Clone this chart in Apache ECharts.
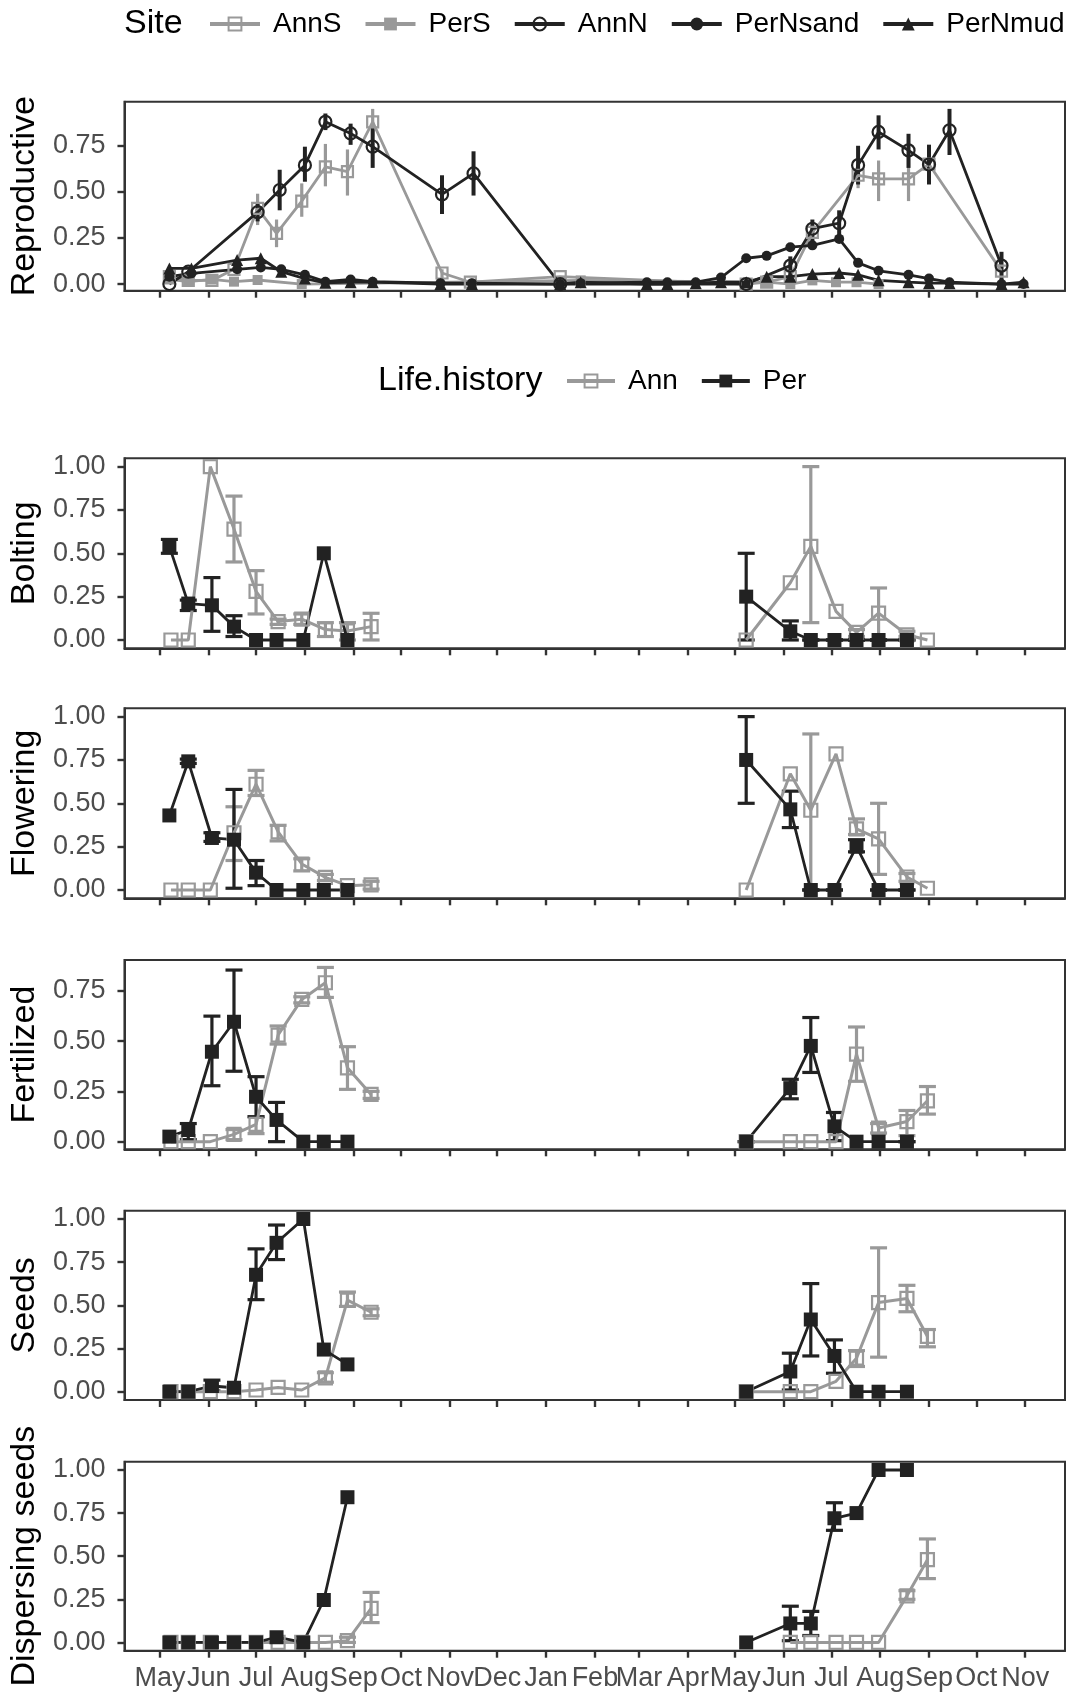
<!DOCTYPE html>
<html>
<head>
<meta charset="utf-8">
<script src="https://cdn.jsdelivr.net/npm/echarts@6/dist/echarts.min.js"></script>
<style>
  html, body { margin: 0; padding: 0; background: #fff; }
  #chart { width: 1069px; height: 1694px; }
</style>
</head>
<body>
<div id="chart"></div>
<script>
// month ticks on the shared date axis
const monthTicks = ['2018-05-01', '2018-06-01', '2018-07-01', '2018-08-01', '2018-09-01', '2018-10-01',
  '2018-11-01', '2018-12-01', '2019-01-01', '2019-02-01', '2019-03-01', '2019-04-01', '2019-05-01',
  '2019-06-01', '2019-07-01', '2019-08-01', '2019-09-01', '2019-10-01', '2019-11-01']
const monthLabels = ['May', 'Jun', 'Jul', 'Aug', 'Sep', 'Oct', 'Nov', 'Dec', 'Jan', 'Feb', 'Mar', 'Apr',
  'May', 'Jun', 'Jul', 'Aug', 'Sep', 'Oct', 'Nov']
const xStart = '2018-04-08T12:00:00Z'
const xEnd = '2019-11-26T07:00:00Z'

// ---- top panel: proportion reproductive by site ----
const siteNames = ['AnnS', 'PerS', 'AnnN', 'PerNsand', 'PerNmud']

const annSDates = ['2018-05-07', '2018-05-19', '2018-06-03', '2018-06-17', '2018-07-02', '2018-07-14', '2018-07-30',
  '2018-08-14', '2018-08-28', '2018-09-13', '2018-10-27', '2018-11-14', '2019-01-10', '2019-05-08', '2019-05-21',
  '2019-06-05', '2019-06-19', '2019-07-18', '2019-07-31', '2019-08-19', '2019-09-01', '2019-10-17']
const annS = [0.04, 0.02, 0.02, 0.08, 0.41, 0.275, 0.45, 0.635, 0.61, 0.88, 0.06, 0.01, 0.04, 0.0, 0.01,
  0.04, 0.28, 0.59, 0.57, 0.57, 0.65, 0.07]
const annSLo = [null, null, null, null, 0.32, 0.20, 0.365, 0.53, 0.48, 0.80, 0.03, null, null, null, null,
  null, null, 0.52, 0.45, 0.45, null, 0.02]
const annSHi = [null, null, null, null, 0.49, 0.35, 0.546, 0.76, 0.73, 0.95, 0.08, null, null, null, null,
  null, null, 0.66, 0.67, 0.70, null, 0.10]

const perSDates = ['2018-05-07', '2018-05-19', '2018-06-03', '2018-06-17', '2018-07-02', '2018-07-30', '2019-01-23',
  '2019-05-21', '2019-06-05', '2019-06-19', '2019-07-04', '2019-07-17', '2019-07-31']
const perS = [0.025, 0.013, 0.025, 0.013, 0.022, 0.0, 0.02, 0.01, 0.0, 0.02, 0.01, 0.01, 0.0]

const annNDates = ['2018-05-07', '2018-05-19', '2018-07-02', '2018-07-16', '2018-08-01', '2018-08-14', '2018-08-30',
  '2018-09-13', '2018-10-27', '2018-11-16', '2019-01-10', '2019-05-08', '2019-06-05', '2019-06-19', '2019-07-06',
  '2019-07-18', '2019-07-31', '2019-08-19', '2019-09-01', '2019-09-14', '2019-10-17']
const annN = [0.0, 0.067, 0.39, 0.51, 0.645, 0.88, 0.817, 0.745, 0.486, 0.60, 0.0, 0.0, 0.10, 0.30, 0.33,
  0.645, 0.825, 0.725, 0.648, 0.834, 0.10]
const annNLo = [null, null, 0.34, 0.40, 0.555, 0.835, 0.755, 0.63, 0.38, 0.48, null, null, 0.05, 0.19, 0.26,
  0.54, 0.73, 0.63, 0.54, 0.70, 0.0]
const annNHi = [null, null, 0.44, 0.62, 0.745, 0.925, 0.87, 0.85, 0.59, 0.72, null, null, 0.15, 0.35, 0.40,
  0.75, 0.915, 0.815, 0.756, 0.95, 0.175]

const perNDates = ['2018-05-07', '2018-05-21', '2018-06-19', '2018-07-04', '2018-07-17', '2018-08-01', '2018-08-14',
  '2018-08-30', '2018-09-13', '2018-10-26', '2018-11-15', '2019-01-10', '2019-01-23', '2019-03-06', '2019-03-19',
  '2019-04-06', '2019-04-22', '2019-05-08', '2019-05-21', '2019-06-05', '2019-06-19', '2019-07-06', '2019-07-18',
  '2019-07-31', '2019-08-19', '2019-09-01', '2019-09-14', '2019-10-17', '2019-10-31']
const perNsand = [0.04, 0.058, 0.08, 0.09, 0.08, 0.05, 0.013, 0.025, 0.013, 0.005, 0.005, 0.0, 0.005, 0.01, 0.01,
  0.01, 0.035, 0.14, 0.153, 0.20, 0.21, 0.245, 0.115, 0.072, 0.05, 0.03, 0.01, 0.0, 0.0]
const perNmud = [0.085, 0.085, 0.13, 0.14, 0.067, 0.03, 0.007, 0.01, 0.01, 0.0, 0.0, 0.0, 0.01, 0.0, 0.0,
  0.005, 0.01, 0.01, 0.04, 0.04, 0.054, 0.06, 0.05, 0.02, 0.01, 0.005, 0.005, 0.0, 0.01]

// ---- lower panels: stages by life history (two seasons each) ----
const annDates = ['2018-05-08', '2018-05-19', '2018-06-02', '2018-06-17', '2018-07-01', '2018-07-15', '2018-07-30',
  '2018-08-14', '2018-08-28', '2018-09-12',
  '2019-05-08', '2019-06-05', '2019-06-18', '2019-07-04', '2019-07-17', '2019-07-31', '2019-08-18', '2019-08-31']
const annSeason1 = 10
const perDates = ['2018-05-07', '2018-05-19', '2018-06-03', '2018-06-17', '2018-07-01', '2018-07-14', '2018-07-31',
  '2018-08-13', '2018-08-28',
  '2019-05-08', '2019-06-05', '2019-06-18', '2019-07-03', '2019-07-17', '2019-07-31', '2019-08-18']
const perSeason1 = 9

const annBolt = [0, 0, 1.00, 0.64, 0.28, 0.106, 0.12, 0.06, 0.052, 0.077, 0, 0.33, 0.54, 0.165, 0.044, 0.155, 0.03, 0]
const annBoltLo = [null, null, null, 0.45, 0.15, 0.09, 0.09, 0.02, 0.0, 0.0, null, null, 0.10, null, 0.02, 0.0, 0.02, null]
const annBoltHi = [null, null, null, 0.83, 0.40, 0.12, 0.15, 0.10, 0.10, 0.154, null, null, 1.00, null, 0.06, 0.30, 0.05, null]
const perBolt = [0.54, 0.21, 0.20, 0.077, 0, 0, 0, 0.50, 0, 0.25, 0.05, 0, 0, 0, 0, 0]
const perBoltLo = [0.50, 0.17, 0.05, 0.02, null, null, null, null, null, 0.0, 0.0, 0, 0, 0, 0, 0]
const perBoltHi = [0.58, 0.23, 0.36, 0.14, null, null, null, null, null, 0.50, 0.11, 0, 0, 0, 0, 0]

const annFlow = [0, 0, 0, 0.33, 0.61, 0.335, 0.15, 0.073, 0.025, 0.03, 0, 0.67, 0.46, 0.785, 0.353, 0.295, 0.075, 0.01]
const annFlowLo = [null, null, null, 0.17, 0.545, 0.283, 0.11, 0.055, null, 0.005, null, null, 0.0, null, 0.32, 0.09, 0.05, null]
const annFlowHi = [null, null, null, 0.48, 0.69, 0.373, 0.18, 0.09, null, 0.05, null, null, 0.90, null, 0.41, 0.50, 0.095, null]
const perFlow = [0.43, 0.742, 0.30, 0.29, 0.10, 0, 0, 0, 0, 0.75, 0.465, 0, 0, 0.25, 0, 0]
const perFlowLo = [null, 0.73, 0.28, 0.01, 0.025, null, null, null, null, 0.50, 0.36, 0, 0, 0.22, 0, 0]
const perFlowHi = [null, 0.755, 0.33, 0.58, 0.17, null, null, null, null, 1.00, 0.57, 0, 0, 0.29, 0, 0]

const annFert = [0, 0, 0, 0.036, 0.086, 0.53, 0.707, 0.79, 0.367, 0.235, 0, 0, 0, 0, 0.435, 0.068, 0.10, 0.203]
const annFertLo = [null, null, null, 0.01, 0.04, 0.485, 0.69, 0.717, 0.26, 0.215, null, null, null, null, 0.30, 0.043, 0.03, 0.137]
const annFertHi = [null, null, null, 0.06, 0.124, 0.575, 0.72, 0.866, 0.472, 0.25, null, null, null, null, 0.57, 0.09, 0.155, 0.274]
const perFert = [0.025, 0.058, 0.447, 0.596, 0.223, 0.108, 0, 0, 0, 0, 0.266, 0.476, 0.076, 0, 0, 0]
const perFertLo = [null, 0.01, 0.278, 0.35, 0.124, 0.0, null, null, null, 0, 0.213, 0.344, 0.005, null, null, 0]
const perFertHi = [null, 0.09, 0.624, 0.853, 0.323, 0.195, null, null, null, 0, 0.31, 0.617, 0.145, null, null, 0]

const annSeed = [0, 0, 0, 0, 0.01, 0.025, 0.01, 0.08, 0.53, 0.46, 0, 0, 0, 0.06, 0.194, 0.516, 0.54, 0.32]
const annSeedLo = [null, null, null, null, null, null, null, 0.055, 0.494, 0.44, null, null, null, null, 0.146, 0.20, 0.463, 0.26]
const annSeedHi = [null, null, null, null, null, null, null, 0.11, 0.577, 0.48, null, null, null, null, 0.238, 0.833, 0.616, 0.36]
const perSeed = [0, 0, 0.033, 0.023, 0.677, 0.862, 1.00, 0.244, 0.158, 0, 0.117, 0.418, 0.207, 0, 0, 0]
const perSeedLo = [null, null, 0.004, null, 0.533, 0.765, null, null, null, null, 0.01, 0.207, 0.107, null, null, null]
const perSeedHi = [null, null, 0.067, null, 0.827, 0.965, null, null, null, null, 0.223, 0.626, 0.30, null, null, null]

const annDisp = [0, 0, 0, 0, 0, 0, 0, 0, 0.01, 0.198, null, 0, 0, 0, 0, 0, 0.27, 0.48]
const annDispLo = [null, null, null, null, null, null, null, null, 0.0, 0.115, null, null, null, null, null, null, 0.25, 0.37]
const annDispHi = [null, null, null, null, null, null, null, null, 0.03, 0.29, null, null, null, null, null, null, 0.30, 0.60]
const perDisp = [0, 0, 0, 0, 0, 0.03, 0, 0.246, 0.842, 0, 0.11, 0.11, 0.72, 0.75, 1.00, 1.00]
const perDispLo = [null, null, null, null, null, null, null, null, null, null, 0.01, 0.04, 0.65, null, null, null]
const perDispHi = [null, null, null, null, null, null, null, null, null, null, 0.21, 0.18, 0.81, null, null, null]

const panelTitles = ['Reproductive', 'Bolting', 'Flowering', 'Fertilized', 'Seeds', 'Dispersing seeds']
const yTicksTop = [0, 0.25, 0.5, 0.75]
const yTicksFull = [0, 0.25, 0.5, 0.75, 1]

// ---- styling / layout ----
const BLACK = '#222222'
const GREY = '#999999'
const INK = '#333333'
const FONT = 'Liberation Sans, Arial, sans-serif'
const panelTop = [101.7, 458.3, 708.3, 960, 1210.7, 1461.7]
const panelHeight = [189, 190, 190, 189.3, 189.3, 189]
const yRange = [[-0.036, 0.989], [-0.048, 1.048], [-0.048, 1.048], [-0.038, 0.903], [-0.048, 1.048], [-0.048, 1.048]]

const monthTs = monthTicks.map((d) => Date.parse(d))

function pts(dates, vals) {
  return dates.map((d, i) => [Date.parse(d), vals[i]]).filter((p) => p[1] != null)
}
function bars(dates, lo, hi) {
  return dates.map((d, i) => [Date.parse(d), lo[i], hi[i]]).filter((p) => p[1] != null && p[2] != null)
}

function line(name, gi, data, color, symbol, size, open, width) {
  return {
    type: 'line', name, xAxisIndex: gi, yAxisIndex: gi, data,
    symbol, symbolSize: size, showAllSymbol: true, animation: false,
    lineStyle: { color, width: width || 2.8 },
    itemStyle: open
      ? { color: 'rgba(255,255,255,0)', borderColor: color, borderWidth: 2.2 }
      : { color, borderWidth: 0 },
    emphasis: { disabled: true },
  }
}

function errBars(gi, data, color, width, cap) {
  return {
    type: 'custom', xAxisIndex: gi, yAxisIndex: gi, data, silent: true, animation: false, z: 3,
    encode: { x: 0, y: [1, 2] },
    renderItem(params, api) {
      const lo = api.coord([api.value(0), api.value(1)])
      const hi = api.coord([api.value(0), api.value(2)])
      const style = { stroke: color, lineWidth: width }
      const children = [{ type: 'line', shape: { x1: lo[0], y1: lo[1], x2: hi[0], y2: hi[1] }, style }]
      if (cap) {
        children.push({ type: 'line', shape: { x1: lo[0] - cap, y1: lo[1], x2: lo[0] + cap, y2: lo[1] }, style })
        children.push({ type: 'line', shape: { x1: hi[0] - cap, y1: hi[1], x2: hi[0] + cap, y2: hi[1] }, style })
      }
      return { type: 'group', children }
    },
  }
}

const series = [
  line('AnnS', 0, pts(annSDates, annS), GREY, 'rect', 11, true),
  line('PerS', 0, pts(perSDates, perS), GREY, 'rect', 10, false),
  line('AnnN', 0, pts(annNDates, annN), BLACK, 'circle', 12, true),
  line('PerNsand', 0, pts(perNDates, perNsand), BLACK, 'circle', 10, false),
  line('PerNmud', 0, pts(perNDates, perNmud), BLACK, 'triangle', 12, false),
  errBars(0, bars(annSDates, annSLo, annSHi), GREY, 3.2, 0),
  errBars(0, bars(annNDates, annNLo, annNHi), BLACK, 4, 0),
]

const stages = [
  [annBolt, annBoltLo, annBoltHi, perBolt, perBoltLo, perBoltHi],
  [annFlow, annFlowLo, annFlowHi, perFlow, perFlowLo, perFlowHi],
  [annFert, annFertLo, annFertHi, perFert, perFertLo, perFertHi],
  [annSeed, annSeedLo, annSeedHi, perSeed, perSeedLo, perSeedHi],
  [annDisp, annDispLo, annDispHi, perDisp, perDispLo, perDispHi],
]

function season(dates, vals, from, to) {
  return pts(dates.slice(from, to), vals.slice(from, to))
}

stages.forEach(([av, alo, ahi, pv, plo, phi], k) => {
  const gi = k + 1
  series.push(
    line('Ann', gi, season(annDates, av, 0, annSeason1), GREY, 'rect', 13, true, 3),
    line('Ann', gi, season(annDates, av, annSeason1), GREY, 'rect', 13, true, 3),
    errBars(gi, bars(annDates, alo, ahi), GREY, 3.2, 8.5),
    line('Per', gi, season(perDates, pv, 0, perSeason1), BLACK, 'rect', 14, false, 2.8),
    line('Per', gi, season(perDates, pv, perSeason1), BLACK, 'rect', 14, false, 2.8),
    errBars(gi, bars(perDates, plo, phi), BLACK, 3.2, 8.5),
  )
})

const grid = panelTop.map((top, i) => ({
  left: 122, width: 943, top, height: panelHeight[i],
  show: true, borderColor: INK, borderWidth: 2, backgroundColor: 'transparent',
}))

// date axis drawn as a numeric (timestamp) axis so month ticks can be placed exactly
const xAxis = panelTop.map((_, i) => ({
  type: 'value', gridIndex: i, min: Date.parse(xStart), max: Date.parse(xEnd),
  axisLine: { show: true, onZero: false, lineStyle: { color: INK, width: 2 } },
  splitLine: { show: false },
  axisTick: { show: true, customValues: monthTs, length: 7, lineStyle: { color: INK, width: 2.4 } },
  axisLabel: {
    show: i === 5, customValues: monthTs,
    formatter: (v) => monthLabels[monthTs.findIndex((t) => Math.abs(t - v) < 86400000)] || '',
    fontSize: 27, lineHeight: 27, color: '#4d4d4d', fontFamily: FONT, margin: 14,
  },
}))

const yAxis = panelTop.map((_, i) => {
  const ticks = i === 0 || i === 3 ? yTicksTop : yTicksFull
  return {
    type: 'value', gridIndex: i, min: yRange[i][0], max: yRange[i][1],
    name: panelTitles[i], nameLocation: 'middle', nameGap: 80, nameRotate: 90,
    nameTextStyle: { fontSize: 34, color: '#000', fontFamily: FONT },
    axisLine: { show: true, lineStyle: { color: INK, width: 2 } },
    splitLine: { show: false },
    axisTick: { show: true, customValues: ticks, length: 7, lineStyle: { color: INK, width: 2.4 } },
    axisLabel: {
      customValues: ticks, formatter: (v) => Number(v).toFixed(2),
      fontSize: 27, color: '#4d4d4d', fontFamily: FONT, margin: 19,
    },
  }
})

const legendText = { fontSize: 28, lineHeight: 28, color: '#000', fontFamily: FONT, padding: [0, 0, 0, 8] }

const chart = echarts.init(document.getElementById('chart'))
chart.setOption({
  backgroundColor: '#fff',
  animation: false,
  grid, xAxis, yAxis, series,
  legend: [
    { data: siteNames, left: 208, top: 10, padding: 0, itemWidth: 50, itemHeight: 16, itemGap: 22,
      lineStyle: { width: 4 }, textStyle: legendText, selectedMode: false },
    { data: ['Ann', 'Per'], left: 565, top: 367, padding: 0, itemWidth: 48, itemHeight: 16, itemGap: 22,
      lineStyle: { width: 4 }, textStyle: legendText, selectedMode: false },
  ],
  graphic: [
    { type: 'text', x: 124, y: 24, style: { text: 'Site', fontSize: 34, fontFamily: FONT, fill: '#000', verticalAlign: 'middle' } },
    { type: 'text', x: 378, y: 381, style: { text: 'Life.history', fontSize: 34, fontFamily: FONT, fill: '#000', verticalAlign: 'middle' } },
  ],
})
</script>
</body>
</html>
